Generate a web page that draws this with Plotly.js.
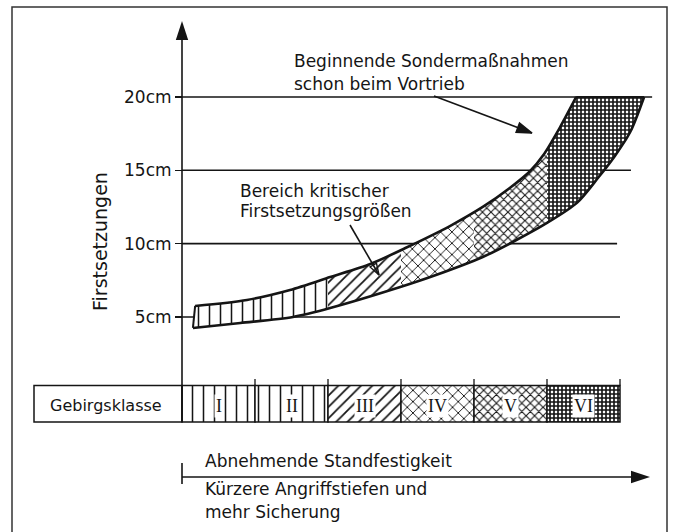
<!DOCTYPE html>
<html><head><meta charset="utf-8">
<script src="https://cdn.plot.ly/plotly-3.0.1.min.js"></script>
<style>html,body{margin:0;padding:0;background:#fff}#chart{width:681px;height:532px}</style>
</head><body><div id="chart"></div>
<script>
// Gebirgsklassen (rock mass classes)
const classLabels = ['I', 'II', 'III', 'IV', 'V', 'VI'];
const classPos = [0.5, 1.5, 2.5, 3.5, 4.5, 5.5];

// Firstsetzungen tick values (cm)
const tickValues = [5, 10, 15, 20];
const tickLabels = ['5cm', '10cm', '15cm', '20cm'];

// Bereich kritischer Firstsetzungsgrößen: upper edge (x in class units, y in cm)
const upperX = [0.18, 0.89, 1.48, 2.03, 2.58, 3.06, 3.67, 4.12, 4.49, 4.77, 4.95, 5.18, 5.40];
const upperY = [5.75, 6.16, 6.84, 7.72, 8.61, 9.70, 11.20, 12.50, 13.79, 14.95, 16.04, 17.95, 20.0];
// lower edge
const lowerX = [0.15, 0.80, 1.52, 2.03, 2.99, 3.44, 4.12, 4.53, 5.00, 5.41, 5.70, 5.93, 6.14, 6.33];
const lowerY = [4.25, 4.59, 5.00, 5.61, 7.04, 7.79, 9.09, 10.11, 11.41, 12.78, 14.49, 15.98, 17.61, 20.0];

// ---------- geometry of the drawing ----------
const W = 681, H = 532;
const PXX = 73, X0 = 182, PXY = 14.667, Y0 = 390.3;
const xRange = [-X0 / PXX, (W - X0) / PXX];
const yRange = [(Y0 - H) / PXY, Y0 / PXY];
const px2x = p => (p - X0) / PXX;
const px2y = p => (Y0 - p) / PXY;
const pX = p => p / W;          // paper x
const pY = p => 1 - p / H;      // paper y

const INK = '#151515';
const FONT = 'DejaVu Sans';

const bandPatterns = [
  {shape: '|', size: 11, solidity: 0.14},
  {shape: '|', size: 11, solidity: 0.14},
  {shape: '/', size: 8, solidity: 0.22},
  {shape: 'x', size: 8, solidity: 0.22},
  {shape: 'x', size: 6, solidity: 0.32},
  {shape: '+', size: 4, solidity: 0.65}
];

const polyX = upperX.concat(lowerX.slice().reverse());
const polyY = upperY.concat(lowerY.slice().reverse());

const traces = [];
const layout = {
  width: W, height: H,
  margin: {l: 0, r: 0, t: 0, b: 0},
  paper_bgcolor: '#ffffff',
  plot_bgcolor: 'rgba(0,0,0,0)',
  showlegend: false,
  xaxis: {range: xRange, domain: [0, 1], visible: false, fixedrange: true},
  yaxis: {
    range: yRange, domain: [0, 1], anchor: 'free', position: X0 / W,
    showline: false, showgrid: false, zeroline: false,
    ticks: 'outside', ticklen: 7, tickwidth: 1.5, tickcolor: INK,
    tickvals: tickValues, ticktext: tickLabels,
    tickfont: {family: FONT, size: 17, color: INK},
    automargin: false, fixedrange: true
  },
  shapes: [],
  annotations: []
};

// class band at the bottom (bars)
traces.push({
  type: 'bar', x: classPos, y: classPos.map(() => px2y(385.5) - px2y(422)),
  base: classPos.map(() => px2y(422)), width: 1,
  marker: {
    color: '#ffffff',
    line: {color: INK, width: 1.5},
    pattern: {
      shape: bandPatterns.map(p => p.shape),
      size: bandPatterns.map(p => p.size),
      solidity: bandPatterns.map(p => p.solidity),
      fgcolor: INK, bgcolor: '#ffffff', fillmode: 'replace'
    }
  },
  hoverinfo: 'skip'
});

// band of critical settlements, clipped per class through separate x axes
const span = xRange[1] - xRange[0];
for (let k = 0; k < 6; k++) {
  const id = k + 2;
  const r1 = k === 5 ? xRange[1] : k + 1;
  layout['xaxis' + id] = {
    range: [k, r1],
    domain: [(k - xRange[0]) / span, (r1 - xRange[0]) / span],
    anchor: 'y', visible: false, fixedrange: true
  };
  traces.push({
    type: 'scatter', mode: 'lines', xaxis: 'x' + id, yaxis: 'y',
    x: polyX, y: polyY, fill: 'toself', fillcolor: '#ffffff',
    fillpattern: Object.assign({fgcolor: INK, bgcolor: '#ffffff', fillmode: 'replace'}, bandPatterns[k]),
    line: {color: INK, width: 0},
    hoverinfo: 'skip'
  });
}

// outline of the band on a top overlay axis (smooth edges)
layout.xaxis8 = {range: xRange, domain: [0, 1], anchor: 'y', visible: false, fixedrange: true};
traces.push({type: 'scatter', mode: 'lines', xaxis: 'x8', yaxis: 'y', x: upperX, y: upperY,
  line: {color: INK, width: 2.6, shape: 'spline', smoothing: 0.8}, hoverinfo: 'skip'});
traces.push({type: 'scatter', mode: 'lines', xaxis: 'x8', yaxis: 'y', x: lowerX, y: lowerY,
  line: {color: INK, width: 2.6, shape: 'spline', smoothing: 0.8}, hoverinfo: 'skip'});
traces.push({type: 'scatter', mode: 'lines', xaxis: 'x8', yaxis: 'y',
  x: [upperX[upperX.length - 1], lowerX[lowerX.length - 1]], y: [upperY[upperY.length - 1], lowerY[lowerY.length - 1]],
  line: {color: INK, width: 2}, hoverinfo: 'skip'});
traces.push({type: 'scatter', mode: 'lines', xaxis: 'x8', yaxis: 'y',
  x: [lowerX[0], upperX[0]], y: [lowerY[0], upperY[0]],
  line: {color: INK, width: 2}, hoverinfo: 'skip'});

// horizontal level lines
const lineEnds = [6.0, 5.96, 6.15, 6.44];
tickValues.forEach((v, i) => {
  layout.shapes.push({type: 'line', xref: 'x', yref: 'y', x0: 0, x1: lineEnds[i], y0: v, y1: v,
    line: {color: INK, width: 1.6}, layer: 'below'});
});

// vertical axis line
layout.shapes.push({type: 'line', xref: 'x', yref: 'y', x0: 0, x1: 0, y0: px2y(422), y1: px2y(36),
  line: {color: INK, width: 1.6}});
// ticks above the class band
for (let k = 1; k <= 6; k++) {
  layout.shapes.push({type: 'line', xref: 'x', yref: 'y', x0: k, x1: k, y0: px2y(385.5), y1: px2y(379),
    line: {color: INK, width: 1.3}});
}
// Gebirgsklasse label box
layout.shapes.push({type: 'rect', xref: 'x', yref: 'y', x0: px2x(34), x1: 0, y0: px2y(422), y1: px2y(385.5),
  line: {color: INK, width: 1.5}, fillcolor: 'rgba(0,0,0,0)'});
// bottom arrow line and start tick
layout.shapes.push({type: 'line', xref: 'x', yref: 'y', x0: 0, x1: px2x(640), y0: px2y(477), y1: px2y(477),
  line: {color: INK, width: 1.6}});
layout.shapes.push({type: 'line', xref: 'x', yref: 'y', x0: 0, x1: 0, y0: px2y(463), y1: px2y(484),
  line: {color: INK, width: 1.6}});
// outer frame
layout.shapes.push({type: 'rect', xref: 'paper', yref: 'paper', x0: pX(12), x1: pX(667), y0: -0.05, y1: pY(7),
  line: {color: '#333', width: 1.5}, fillcolor: 'rgba(0,0,0,0)'});

// pointer lines
const ptrs = [
  {x: [px2x(434), px2x(532)], y: [px2y(96), px2y(133)], sym: 'arrow', size: 16},
  {x: [px2x(350), px2x(379)], y: [px2y(225), px2y(275)], sym: 'arrow-open', size: 12}
];
ptrs.forEach(p => {
  const dx = (p.x[1] - p.x[0]) * PXX, dy = -(p.y[1] - p.y[0]) * PXY;
  const ang = Math.atan2(dx, -dy) * 180 / Math.PI;
  traces.push({type: 'scatter', mode: 'lines', xaxis: 'x8', x: p.x, y: p.y, line: {color: INK, width: 1.6}, hoverinfo: 'skip'});
  traces.push({type: 'scatter', mode: 'markers', xaxis: 'x8', x: [p.x[1]], y: [p.y[1]],
    marker: {symbol: p.sym, size: p.size, angle: ang, color: INK, line: {color: INK, width: 1.4}}, hoverinfo: 'skip'});
});
// axis arrowheads
traces.push({type: 'scatter', mode: 'markers', x: [0], y: [px2y(21)],
  marker: {symbol: 'arrow', size: 20, angle: 0, color: INK}, hoverinfo: 'skip'});
traces.push({type: 'scatter', mode: 'markers', x: [px2x(650)], y: [px2y(477)],
  marker: {symbol: 'arrow', size: 20, angle: 90, color: INK}, hoverinfo: 'skip'});

// class numerals
classLabels.forEach((c, i) => {
  layout.annotations.push({x: classPos[i], y: px2y(406), xref: 'x', yref: 'y', text: c, showarrow: false,
    font: {family: 'Liberation Serif', size: 18, color: INK}, bgcolor: '#ffffff', borderpad: 1});
});

// texts
const texts = [
  ['Beginnende Sondermaßnahmen', 292, 61.5],
  ['schon beim Vortrieb', 292, 84],
  ['Bereich kritischer', 238, 191],
  ['Firstsetzungsgrößen', 238, 211.5],
  ['Abnehmende Standfestigkeit', 203, 461],
  ['Kürzere Angriffstiefen und', 203, 489],
  ['mehr Sicherung', 203, 512]
];
texts.forEach(t => {
  layout.annotations.push({x: pX(t[1]), y: pY(t[2]), xref: 'paper', yref: 'paper', xanchor: 'left', yanchor: 'middle',
    text: t[0], showarrow: false, font: {family: FONT, size: 17, color: INK}});
});
layout.annotations.push({x: pX(48), y: pY(405.5), xref: 'paper', yref: 'paper', xanchor: 'left', yanchor: 'middle',
  text: 'Gebirgsklasse', showarrow: false, font: {family: FONT, size: 16, color: INK}});
layout.annotations.push({x: pX(100), y: pY(242), xref: 'paper', yref: 'paper', xanchor: 'center', yanchor: 'middle',
  text: 'Firstsetzungen', textangle: -90, showarrow: false, font: {family: FONT, size: 19, color: INK}});

Plotly.newPlot('chart', traces, layout, {staticPlot: true, displayModeBar: false});
</script>
</body></html>
